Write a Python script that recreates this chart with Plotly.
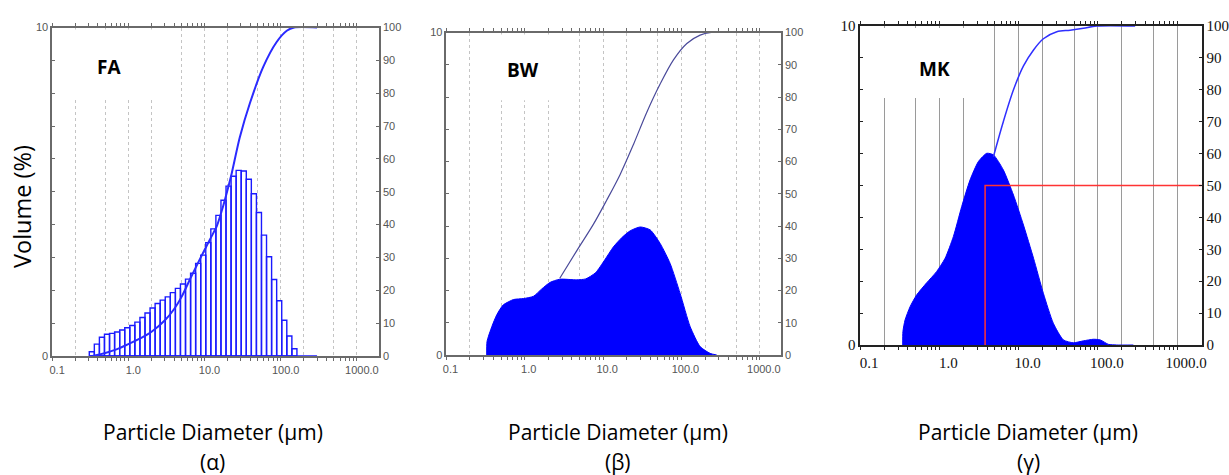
import plotly.graph_objects as go

# ---------------- data ----------------
decade_vals = [0.1, 1, 10, 100, 1000]
decade_labels = ["0.1", "1.0", "10.0", "100.0", "1000.0"]
grid_vals = [0.1, 0.2, 0.5, 1, 2, 5, 10, 20, 50, 100, 200, 500, 1000]
minor_vals = [0.3, 0.4, 0.6, 0.7, 0.8, 0.9, 3, 4, 6, 7, 8, 9,
              30, 40, 60, 70, 80, 90, 300, 400, 600, 700, 800, 900]
left_ticks = list(range(0, 11))
right_ticks = list(range(0, 101, 10))

# FA : histogram (bin edges in um, volume % per bin) + cumulative curve
fa_bin_edges = [0.3076, 0.3584, 0.4176, 0.4867, 0.5671, 0.6610, 0.7705, 0.8979,
                1.0464, 1.2194, 1.4213, 1.6563, 1.9299, 2.2491, 2.6207, 3.0539,
                3.5590, 4.1476, 4.8339, 5.6337, 6.5656, 7.6508, 8.9166, 10.390,
                12.106, 14.110, 16.443, 19.161, 22.332, 26.021, 30.327, 35.339,
                41.181, 47.991, 55.921, 65.173, 75.961, 88.514, 103.16, 120.23,
                140.13, 163.3]
fa_volume = [0.13, 0.36, 0.57, 0.66, 0.69, 0.73, 0.79, 0.86, 0.93, 1.03,
             1.17, 1.31, 1.46, 1.60, 1.70, 1.80, 1.93, 2.06, 2.19, 2.34,
             2.52, 2.82, 3.07, 3.45, 3.87, 4.28, 4.74, 5.17, 5.47, 5.65,
             5.63, 5.38, 4.94, 4.37, 3.68, 3.02, 2.33, 1.68, 1.09, 0.61, 0.22]
fa_size_max = 300
fa_cum_size = [0.34, 0.5, 0.7, 1.0, 1.5, 2.0, 3.0, 4.0, 5.0, 6.5, 8.7, 11.8, 14.5,
               17, 19.5, 22.7, 29, 39.5, 59, 88, 120, 150, 300]
fa_cum_pct = [0, 0.9, 2.0, 3.6, 5.6, 7.3, 10.8, 14.3, 18, 23.5, 29.5, 35.5, 39.5,
              44.5, 49.5, 55.5, 66.5, 77, 88, 95.5, 99, 100, 100]

# BW : distribution (area) + visible part of cumulative curve
bw_size = [0.327, 0.330, 0.38, 0.44, 0.53, 0.72, 0.96, 1.29, 1.65, 2.1, 2.8, 4.6,
           6.0, 8.0, 10.5, 13.5, 17.5, 22.1, 29.7, 39.8, 53.4, 71.6, 96.1, 129,
           173, 232, 282]
bw_volume = [0, 0.42, 0.88, 1.25, 1.55, 1.72, 1.75, 1.82, 2.05, 2.25, 2.35, 2.33,
             2.36, 2.55, 2.95, 3.35, 3.65, 3.85, 3.97, 3.88, 3.46, 2.84, 1.91, 0.88,
             0.26, 0.05, 0]
bw_cum_size = [2.8, 4.6, 7.5, 11.1, 16.5, 24.4, 36, 53.4, 79, 117, 173, 240, 302]
bw_cum_pct = [23.8, 32.3, 40.5, 48.0, 56.0, 65.3, 75.2, 84.0, 91.5, 96.6, 99.2, 100, 100]

# MK : distribution (area) + visible part of cumulative curve + D50 marker
mk_size = [0.344, 0.346, 0.368, 0.426, 0.516, 0.69, 0.92, 1.18, 1.5, 1.91, 2.43,
           3.1, 3.96, 4.8, 6.4, 8.6, 11.5, 15.4, 20.5, 27.4, 36.7, 49, 65.6, 87.7,
           107, 136, 173, 280]
mk_volume = [0, 0.42, 0.78, 1.2, 1.57, 1.95, 2.3, 2.72, 3.4, 4.34, 5.17, 5.75,
             6.01, 5.96, 5.49, 4.70, 3.76, 2.72, 1.62, 0.68, 0.16, 0.07, 0.13, 0.18,
             0.16, 0.02, 0, 0]
mk_cum_size = [4.8, 6.4, 8.6, 11.5, 15.4, 20.5, 30.3, 44.6, 65.6, 96.8, 295]
mk_cum_pct = [59, 70, 80, 87.5, 92.5, 96.0, 98.2, 98.7, 99.3, 100, 100]
mk_d50 = 3.77
mk_d50_pct = 50
mk_size_end = 2100

panel_names = ["FA", "BW", "MK"]
panel_letters = ["(α)", "(β)", "(γ)"]
x_title = "Particle Diameter (µm)"

# ---------------- figure ----------------
W, H = 1229, 475
BLUE = "#0000ff"

fig = go.Figure()

# FA histogram outline (rectangles) built from bin edges
hx, hy = [], []
for k, h in enumerate(fa_volume):
    e0, e1 = fa_bin_edges[k], fa_bin_edges[k + 1]
    hx += [e0, e0, e1, e1, e0, None]
    hy += [0, h, h, 0, 0, None]
hx += [fa_bin_edges[0], fa_size_max]
hy += [0, 0]
fig.add_trace(go.Scatter(x=hx, y=hy, mode="lines", fill="toself", fillcolor="white",
                         line=dict(color="#1a1aff", width=1.4),
                         xaxis="x", yaxis="y", showlegend=False, hoverinfo="skip"))
fig.add_trace(go.Scatter(x=fa_cum_size, y=fa_cum_pct, mode="lines",
                         line=dict(color="#2a2aff", width=2, shape="spline", smoothing=0.7),
                         xaxis="x", yaxis="y2", showlegend=False))

# BW
fig.add_trace(go.Scatter(x=bw_size, y=bw_volume, mode="lines", fill="tozeroy",
                         fillcolor=BLUE, line=dict(color=BLUE, width=1, shape="spline", smoothing=0.6),
                         xaxis="x2", yaxis="y3", showlegend=False))
fig.add_trace(go.Scatter(x=bw_cum_size, y=bw_cum_pct, mode="lines",
                         line=dict(color="#4a4a9a", width=1.2, shape="spline", smoothing=0.9),
                         xaxis="x2", yaxis="y4", showlegend=False))

# MK
fig.add_trace(go.Scatter(x=mk_size, y=mk_volume, mode="lines", fill="tozeroy",
                         fillcolor=BLUE, line=dict(color=BLUE, width=1, shape="spline", smoothing=0.6),
                         xaxis="x3", yaxis="y5", showlegend=False))
fig.add_trace(go.Scatter(x=mk_cum_size, y=mk_cum_pct, mode="lines",
                         line=dict(color="#3030ff", width=1.5, shape="spline", smoothing=0.9),
                         xaxis="x3", yaxis="y6", showlegend=False))
fig.add_trace(go.Scatter(x=[mk_d50, mk_d50, mk_size_end], y=[0, mk_d50_pct, mk_d50_pct],
                         mode="lines", line=dict(color="#ff3333", width=1.5),
                         xaxis="x3", yaxis="y6", showlegend=False))

# panel geometry (pixels)
panels = [
    dict(x0=52.1, x1=379.0, top=27.5, bottom=356.0, xr=3.29, shift=5,
         grid=dict(color="#c4c4c4", dash="dot", width=1), line="#6a6a6a",
         tickfont=dict(family="Liberation Sans Narrow, Arial Narrow, Liberation Sans", size=11, color="#555555"),
         box=(0.04, 0.33, 0.787)),
    dict(x0=446.4, x1=781.0, top=32.5, bottom=355.0, xr=3.27, shift=4,
         grid=dict(color="#c4c4c4", dash="dot", width=1), line="#6a6a6a",
         tickfont=dict(family="Liberation Sans Narrow, Arial Narrow, Liberation Sans", size=11, color="#555555"),
         box=(0.11, 0.35, 0.79)),
    dict(x0=860.2, x1=1201.7, top=26.0, bottom=345.0, xr=3.31, shift=9,
         grid=dict(color="#9a9a9a", dash="solid", width=1), line="#222222",
         tickfont=dict(family="Liberation Serif, Times New Roman, serif", size=15, color="#111111"),
         box=(0.04, 0.35, 0.774)),
]

x_ticktext = [decade_labels[decade_vals.index(v)] if v in decade_vals else "" for v in grid_vals]
xnames = ["xaxis", "xaxis2", "xaxis3"]
xids = ["x", "x2", "x3"]
ylnames = ["yaxis", "yaxis3", "yaxis5"]
ylids = ["y", "y3", "y5"]
yrnames = ["yaxis2", "yaxis4", "yaxis6"]

layout = {}
shapes = []
annotations = []
for i, p in enumerate(panels):
    xd = [p["x0"] / W, p["x1"] / W]
    yd = [1 - p["bottom"] / H, 1 - p["top"] / H]
    layout[xnames[i]] = dict(
        type="log", range=[-1, p["xr"]], domain=xd, anchor=ylids[i], automargin=False,
        tickmode="array", tickvals=grid_vals, ticktext=x_ticktext,
        ticks="outside", ticklen=3, tickcolor=p["line"], tickwidth=1,
        showgrid=True, gridcolor=p["grid"]["color"], griddash=p["grid"]["dash"],
        gridwidth=p["grid"]["width"],
        minor=dict(tickmode="array", tickvals=minor_vals, ticks="outside", ticklen=3,
                   tickcolor=p["line"], showgrid=False),
        showline=True, linecolor=p["line"], linewidth=1.5, mirror="ticks",
        tickfont=p["tickfont"], ticklabelshift=p["shift"], zeroline=False,
    )
    layout[ylnames[i]] = dict(
        range=[0, 10], domain=yd, anchor=xids[i], automargin=False,
        tickmode="array", tickvals=left_ticks,
        ticktext=["0"] + [""] * 9 + ["10"], ticks="inside", ticklen=3, tickcolor=p["line"],
        showgrid=False, zeroline=False, showline=True, linecolor=p["line"], linewidth=1.5,
        tickfont=p["tickfont"],
    )
    layout[yrnames[i]] = dict(
        range=[0, 100], overlaying=ylids[i], side="right", anchor=xids[i], automargin=False,
        tickmode="array", tickvals=right_ticks, ticks="inside", ticklen=3,
        tickcolor=p["line"], showgrid=False, zeroline=False, showline=True,
        linecolor=p["line"], linewidth=1.5, tickfont=p["tickfont"],
    )
    bx0, bx1, by0 = p["box"]
    shapes.append(dict(type="rect", xref="paper", yref="paper",
                       x0=xd[0] + bx0 * (xd[1] - xd[0]), x1=xd[0] + bx1 * (xd[1] - xd[0]),
                       y0=yd[0] + by0 * (yd[1] - yd[0]), y1=yd[0] + 0.994 * (yd[1] - yd[0]),
                       fillcolor="white", line=dict(width=0), layer="above"))

# panel names
name_pos = [(109, 67), (523, 70), (934, 69)]
for (px, py), t in zip(name_pos, panel_names):
    annotations.append(dict(x=px / W, y=1 - py / H, xref="paper", yref="paper", text=f"<b>{t}</b>",
                            showarrow=False, font=dict(family="Open Sans", size=19, color="black"),
                            xanchor="center", yanchor="middle"))
# bottom captions
cap_x = [213, 618, 1028]
for cx, let in zip(cap_x, panel_letters):
    annotations.append(dict(x=cx / W, y=1 - 432 / H, xref="paper", yref="paper", text=x_title,
                            showarrow=False, font=dict(family="Open Sans", size=21, color="black"),
                            xanchor="center", yanchor="middle"))
    annotations.append(dict(x=cx / W, y=1 - 462 / H, xref="paper", yref="paper", text=let,
                            showarrow=False, font=dict(family="Open Sans", size=21, color="black"),
                            xanchor="center", yanchor="middle"))
annotations.append(dict(x=22 / W, y=1 - 207 / H, xref="paper", yref="paper", text="Volume (%)",
                        textangle=-90, showarrow=False,
                        font=dict(family="Open Sans", size=23.5, color="black"),
                        xanchor="center", yanchor="middle"))

fig.update_layout(width=W, height=H, margin=dict(l=0, r=0, t=0, b=0, pad=0, autoexpand=False),
                  paper_bgcolor="white", plot_bgcolor="white",
                  shapes=shapes, annotations=annotations, showlegend=False, **layout)

fig.write_html("out.html")
